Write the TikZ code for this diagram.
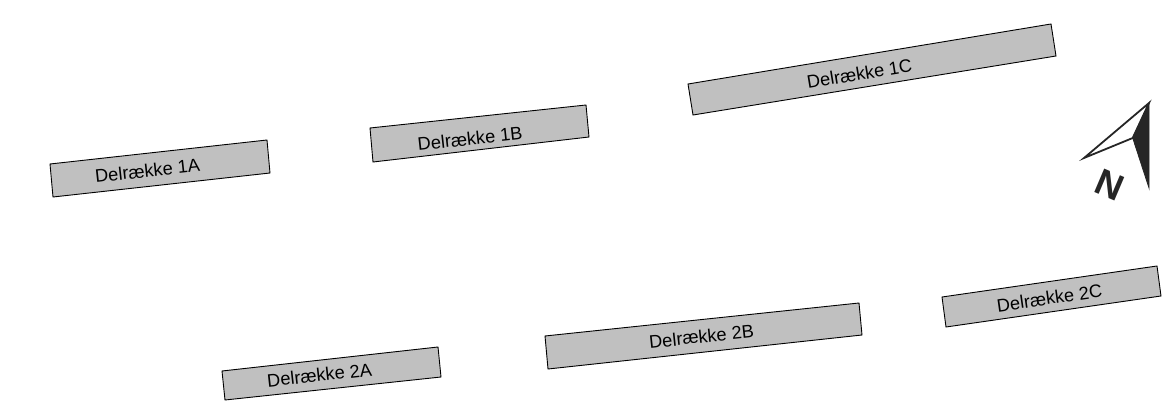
\documentclass[tikz,border=0pt]{standalone}
\usepackage{fontspec}
\setmainfont{Liberation Sans}
\definecolor{boxgray}{HTML}{C0C0C0}
\definecolor{compassdark}{HTML}{262626}
\tikzset{
  rowbox/.style={draw=black,fill=boxgray,line width=0.9pt,line join=miter},
  rowlabel/.style={inner sep=0pt,font=\fontsize{18.2}{20}\selectfont,text=black},
  compassline/.style={draw=compassdark,line width=1.8pt,line join=miter,fill=white},
  compassfill/.style={draw=compassdark,fill=compassdark,line width=0.8pt,line join=miter},
}
\begin{document}
\begin{tikzpicture}[x=1pt,y=-1pt]
\useasboundingbox (0,0) rectangle (1168,404);
% boxes
\draw[rowbox] (50,164) -- (267,140) -- (270,173) -- (53,197) -- cycle;
\draw[rowbox] (370,128) -- (586,105) -- (589,137) -- (373,162) -- cycle;
\draw[rowbox] (688,84) -- (1051,24) -- (1056,56) -- (693,115) -- cycle;
\draw[rowbox] (222,371) -- (438,347) -- (441,377) -- (225,400) -- cycle;
\draw[rowbox] (545,336) -- (859,303) -- (862,335) -- (548,369) -- cycle;
\draw[rowbox] (942,297) -- (1157,266) -- (1161,296) -- (946,327) -- cycle;
% labels
\node[rowlabel,rotate=6.3] (l1a) at (147.5,170.5) {Delrække 1A};
\node[rowlabel,rotate=6.3] (l1b) at (470,138.5) {Delrække 1B};
\node[rowlabel,rotate=9.4] (l1c) at (859.5,73.5) {Delrække 1C};
\node[rowlabel,rotate=6.3] (l2a) at (319.5,375) {Delrække 2A};
\node[rowlabel,rotate=6.0] (l2b) at (701.5,336.5) {Delrække 2B};
\node[rowlabel,rotate=8.2] (l2c) at (1049.5,298) {Delrække 2C};
% north arrow
\draw[compassline] (1149,103) -- (1084,158) -- (1132.7,138) -- cycle;
\draw[compassfill] (1149,103) -- (1132.7,138) -- (1149,188) -- cycle;
\node[inner sep=0pt,rotate=-23,font=\bfseries\fontsize{37}{37}\selectfont,text=compassdark] (north) at (1110,185) {N};
\end{tikzpicture}
\end{document}
